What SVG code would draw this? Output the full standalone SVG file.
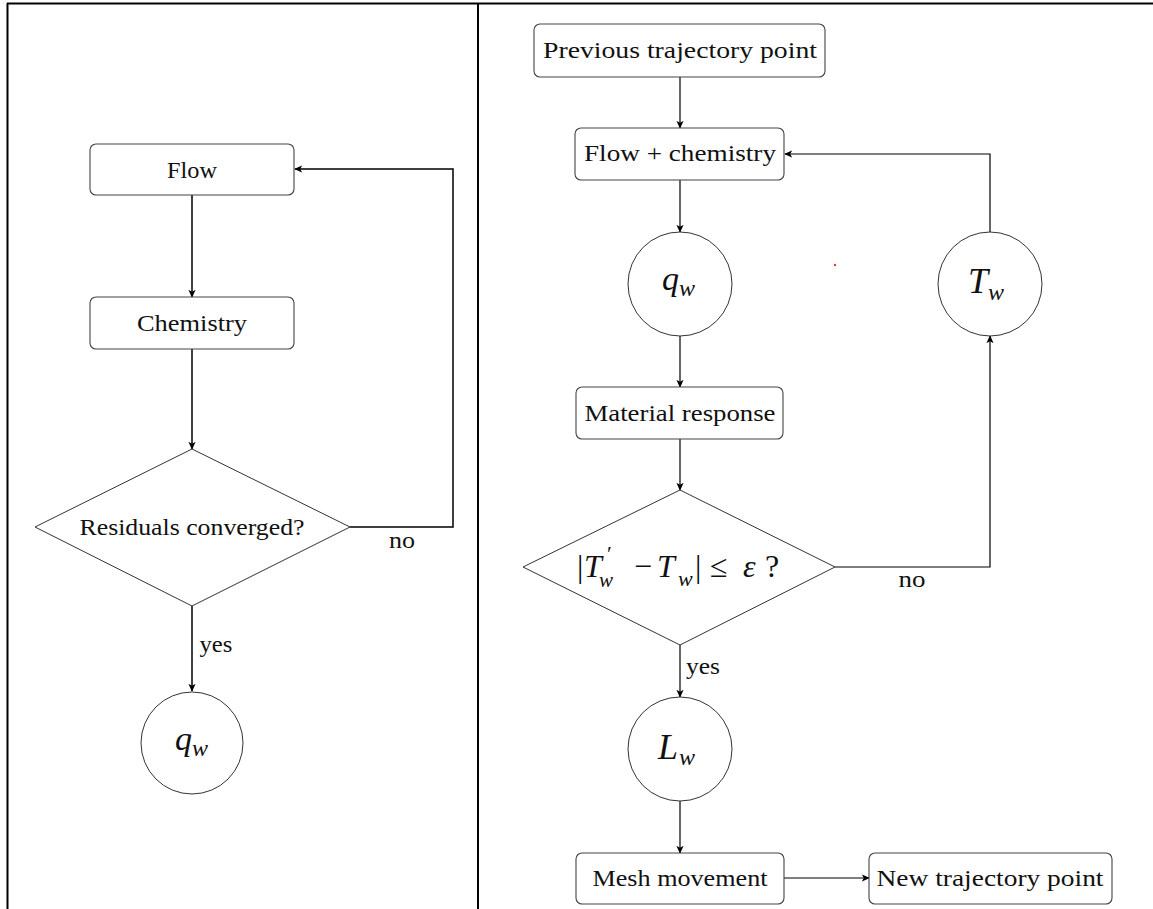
<svg xmlns="http://www.w3.org/2000/svg" width="1153" height="909" viewBox="0 0 1153 909">
<style>
  .box{fill:#fff;stroke:#444;stroke-width:1.1}
  .dia{fill:#fff;stroke:#333;stroke-width:1}
  .circ{fill:#fff;stroke:#333;stroke-width:1}
  .lbl{font-family:"Liberation Serif","DejaVu Serif",serif;font-size:23px;fill:#111;text-anchor:middle}
  .math{font-family:"Liberation Serif","DejaVu Serif",serif;font-style:italic;fill:#111}
  .rm{font-family:"Liberation Serif","DejaVu Serif",serif;fill:#111}
  .conL{fill:none;stroke:#000;stroke-width:1.5}
  .conR{fill:none;stroke:#000;stroke-width:1.2}
  .frame{stroke:#000;stroke-width:2;fill:none}
</style>
<defs>
  <marker id="arr" viewBox="0 0 10 10" refX="9" refY="5" markerWidth="8" markerHeight="8" markerUnits="userSpaceOnUse" orient="auto">
    <path d="M0,0.5 L10,5 L0,9.5 L2.5,5 z" fill="#000"/>
  </marker>
</defs>
<rect width="1153" height="909" fill="#fff"/>
<g id="frame">
  <path class="frame" d="M7,3.5 H1153 M7.5,3 V909 M478,3 V909"/>
</g>

<g id="connectors">
  <path class="conL" d="M192,195 V297" marker-end="url(#arr)"/>
  <path class="conL" d="M192,349 V449" marker-end="url(#arr)"/>
  <path class="conL" d="M350,527 H453 V169 H295" marker-end="url(#arr)"/>
  <path class="conL" d="M192,606 V691" marker-end="url(#arr)"/>
  <path class="conR" d="M680,77 V128" marker-end="url(#arr)"/>
  <path class="conR" d="M680,180 V232" marker-end="url(#arr)"/>
  <path class="conR" d="M680,336 V387" marker-end="url(#arr)"/>
  <path class="conR" d="M680,439 V490" marker-end="url(#arr)"/>
  <path class="conR" d="M835,567 H990 V336" marker-end="url(#arr)"/>
  <path class="conR" d="M990,232 V154 H785" marker-end="url(#arr)"/>
  <path class="conR" d="M680,645 V697" marker-end="url(#arr)"/>
  <path class="conR" d="M680,801 V853" marker-end="url(#arr)"/>
  <path class="conR" d="M784,878 H869" marker-end="url(#arr)"/>
  <text class="lbl" x="402" y="548" textLength="26" lengthAdjust="spacingAndGlyphs">no</text>
  <text class="lbl" x="216" y="652" textLength="33" lengthAdjust="spacingAndGlyphs">yes</text>
  <text class="lbl" x="912" y="587" textLength="27" lengthAdjust="spacingAndGlyphs">no</text>
  <text class="lbl" x="703" y="674" textLength="34" lengthAdjust="spacingAndGlyphs">yes</text>
</g>

<g id="flow">
  <rect class="box" x="90" y="144" width="204" height="51" rx="6"/>
  <text class="lbl" x="192" y="178" textLength="50" lengthAdjust="spacingAndGlyphs">Flow</text>
</g>
<g id="chemistry">
  <rect class="box" x="90" y="297" width="204" height="52" rx="6"/>
  <text class="lbl" x="192" y="331" textLength="110" lengthAdjust="spacingAndGlyphs">Chemistry</text>
</g>
<g id="residuals">
  <polygon class="dia" points="192,449 350,527 192,606 35,527"/>
  <text class="lbl" x="192" y="535" textLength="225" lengthAdjust="spacingAndGlyphs">Residuals converged?</text>
</g>
<g id="qw-left">
  <circle class="circ" cx="192" cy="743" r="51"/>
  <text x="175" y="750"><tspan class="math" font-size="34">q</tspan><tspan class="math" font-size="24" dy="6">w</tspan></text>
</g>

<g id="previous">
  <rect class="box" x="534" y="24" width="291" height="53" rx="6"/>
  <text class="lbl" x="680" y="58" textLength="274" lengthAdjust="spacingAndGlyphs">Previous trajectory point</text>
</g>
<g id="flowchem">
  <rect class="box" x="575" y="128" width="209" height="52" rx="6"/>
  <text class="lbl" x="680" y="161" textLength="192" lengthAdjust="spacingAndGlyphs">Flow + chemistry</text>
</g>
<g id="qw-right">
  <circle class="circ" cx="680" cy="284" r="52"/>
  <text x="662" y="290"><tspan class="math" font-size="34">q</tspan><tspan class="math" font-size="24" dy="6">w</tspan></text>
</g>
<g id="tw">
  <circle class="circ" cx="990" cy="284" r="52"/>
  <text x="968" y="293"><tspan class="math" font-size="36">T</tspan><tspan class="math" font-size="24" dy="7">w</tspan></text>
</g>
<g id="dot"><circle cx="835" cy="265" r="1.2" fill="#e33"/></g>
<g id="material">
  <rect class="box" x="576" y="387" width="207" height="52" rx="6"/>
  <text class="lbl" x="680" y="421" textLength="191" lengthAdjust="spacingAndGlyphs">Material response</text>
</g>
<g id="check">
  <polygon class="dia" points="680,490 835,567 680,645 523,567"/>
  <text y="577" font-size="32">
    <tspan class="rm" x="577">|</tspan><tspan class="math" x="584">T</tspan><tspan class="rm" x="607" y="561" font-size="22">′</tspan><tspan class="math" x="599" y="587" font-size="21">w</tspan><tspan class="rm" x="634" y="577">−</tspan><tspan class="math" x="657">T</tspan><tspan class="math" x="678" y="586" font-size="22">w</tspan><tspan class="rm" x="695" y="577">|</tspan><tspan class="rm" x="710">≤</tspan><tspan class="math" x="743">ε</tspan><tspan class="rm" x="765">?</tspan>
  </text>
</g>
<g id="lw">
  <circle class="circ" cx="680" cy="749" r="52"/>
  <text x="658" y="759"><tspan class="math" font-size="36">L</tspan><tspan class="math" font-size="24" dy="6" dx="1">w</tspan></text>
</g>
<g id="mesh">
  <rect class="box" x="576" y="853" width="208" height="51" rx="6"/>
  <text class="lbl" x="680" y="886" textLength="175" lengthAdjust="spacingAndGlyphs">Mesh movement</text>
</g>
<g id="newpoint">
  <rect class="box" x="869" y="853" width="243" height="51" rx="6"/>
  <text class="lbl" x="990" y="886" textLength="227" lengthAdjust="spacingAndGlyphs">New trajectory point</text>
</g>
</svg>
